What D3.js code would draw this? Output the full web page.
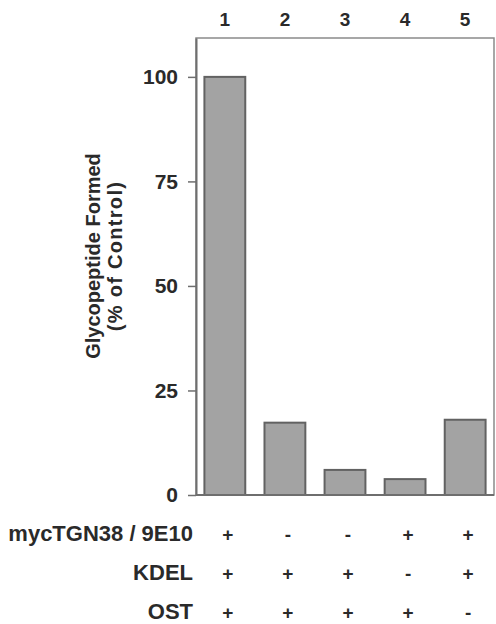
<!DOCTYPE html>
<html>
<head>
<meta charset="utf-8">
<script src="https://cdn.jsdelivr.net/npm/d3@7"></script>
<style>
  body { margin: 0; background: #fff; }
  text { font-family: "Liberation Sans", Arial, sans-serif; font-weight: bold; fill: #2a2a2a; }
</style>
</head>
<body>
<div class="chart"></div>
<script>
// lanes and measured glycopeptide (% of control)
var lanes = ["1", "2", "3", "4", "5"];
var glycoValues = [100, 17.3, 6.0, 3.8, 18.0];
var yTicks = [0, 25, 50, 75, 100];

// conditions table under the bars
var rowLabels = ["mycTGN38 / 9E10", "KDEL", "OST"];
var mycRow = ["+", "-", "-", "+", "+"];
var kdelRow = ["+", "+", "+", "-", "+"];
var ostRow = ["+", "+", "+", "+", "-"];
var rows = [mycRow, kdelRow, ostRow];

var width = 496, height = 624;
var margin = {top: 38, right: 2, bottom: 129, left: 196};

var svg = d3.select(".chart")
    .append("svg")
    .attr("width", width)
    .attr("height", height);

// x scale over the lanes
var x = d3.scaleBand()
    .domain(lanes)
    .range([margin.left, width - margin.right])
    .paddingInner(0.32)
    .paddingOuter(0.14);

// y scale, box top sits a bit above 100
var y = d3.scaleLinear()
    .domain([0, 109.3])
    .range([height - margin.bottom, margin.top]);

// frame (top and right are lighter)
svg.append("rect")
    .attr("x", margin.left)
    .attr("y", margin.top)
    .attr("width", width - margin.right - margin.left)
    .attr("height", y(0) - margin.top)
    .attr("fill", "none")
    .attr("stroke", "#8a8a8a")
    .attr("stroke-width", 1.5);

// bars
svg.selectAll("rect.bar")
    .data(glycoValues)
    .join("rect")
    .attr("class", "bar")
    .attr("x", (d, i) => x(lanes[i]))
    .attr("y", d => y(d))
    .attr("width", x.bandwidth())
    .attr("height", d => y(0) - y(d))
    .attr("fill", "#a3a3a3")
    .attr("stroke", "#626262")
    .attr("stroke-width", 2);

// left axis
var yAxis = svg.append("g")
    .attr("transform", `translate(${margin.left},0)`)
    .call(d3.axisLeft(y).tickValues(yTicks).tickSize(8).tickPadding(10).tickSizeOuter(0));
yAxis.select(".domain").attr("stroke", "#6e6e6e").attr("stroke-width", 2);
yAxis.selectAll(".tick line").attr("stroke", "#6e6e6e").attr("stroke-width", 1.5);
yAxis.selectAll(".tick text")
    .style("font-size", "21px")
    .attr("fill", "#2a2a2a");

// baseline
svg.append("line")
    .attr("x1", margin.left)
    .attr("x2", width - margin.right)
    .attr("y1", y(0))
    .attr("y2", y(0))
    .attr("stroke", "#6e6e6e")
    .attr("stroke-width", 2);

// lane numbers on top
svg.selectAll("text.lane")
    .data(lanes)
    .join("text")
    .attr("class", "lane")
    .attr("x", d => x(d) + x.bandwidth() / 2)
    .attr("y", 26)
    .attr("text-anchor", "middle")
    .style("font-size", "19px")
    .text(d => d);

// y-axis label, two lines
var label = svg.append("text")
    .attr("transform", "translate(100,256) rotate(-90)")
    .attr("text-anchor", "middle")
    .style("font-size", "20px");
label.append("tspan").attr("x", 0).attr("y", 0).text("Glycopeptide Formed");
label.append("tspan").attr("x", 0).attr("y", 22)
    .style("letter-spacing", "1.3px")
    .text("(% of Control)");

// conditions table
var rowY = [541, 580, 619];
rows.forEach(function(row, r) {
    svg.append("text")
        .attr("x", 193)
        .attr("y", rowY[r])
        .attr("text-anchor", "end")
        .style("font-size", "22px")
        .text(rowLabels[r]);

    svg.selectAll("text.sign" + r)
        .data(row)
        .join("text")
        .attr("class", "sign" + r)
        .attr("x", (d, i) => x(lanes[i]) + x.bandwidth() / 2 + 3)
        .attr("y", rowY[r])
        .attr("text-anchor", "middle")
        .style("font-size", "19px")
        .text(d => d);
});
</script>
</body>
</html>
